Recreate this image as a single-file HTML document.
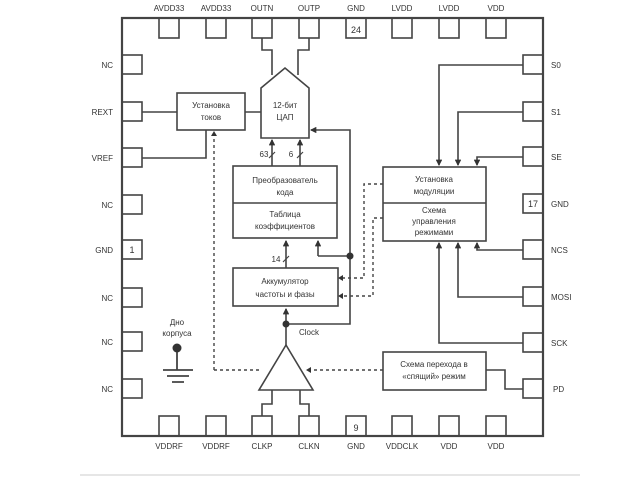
<!DOCTYPE html>
<html><head><meta charset="utf-8"><style>
html,body{margin:0;padding:0;background:#fff;}
svg{display:block;font-family:"Liberation Sans",sans-serif;}
</style></head><body>
<svg width="640" height="480" viewBox="0 0 640 480" xmlns="http://www.w3.org/2000/svg">
<defs>
<marker id="a" viewBox="0 0 6 6" refX="5" refY="3" markerWidth="4" markerHeight="4" orient="auto"><path d="M0,0L6,3L0,6z" fill="#333"/></marker>
</defs>
<g stroke="#444" fill="none" stroke-width="1.6">
<rect x="122" y="18" width="421" height="418" stroke-width="2.2"/>
<!-- top pins -->
<g>
<rect x="159" y="18" width="20" height="20"/><rect x="206" y="18" width="20" height="20"/>
<rect x="252" y="18" width="20" height="20"/><rect x="299" y="18" width="20" height="20"/>
<rect x="346" y="18" width="20" height="20"/><rect x="392" y="18" width="20" height="20"/>
<rect x="439" y="18" width="20" height="20"/><rect x="486" y="18" width="20" height="20"/>
</g>
<g>
<rect x="159" y="416" width="20" height="20"/><rect x="206" y="416" width="20" height="20"/>
<rect x="252" y="416" width="20" height="20"/><rect x="299" y="416" width="20" height="20"/>
<rect x="346" y="416" width="20" height="20"/><rect x="392" y="416" width="20" height="20"/>
<rect x="439" y="416" width="20" height="20"/><rect x="486" y="416" width="20" height="20"/>
</g>
<g>
<rect x="122" y="55" width="20" height="19"/><rect x="122" y="102" width="20" height="19"/>
<rect x="122" y="148" width="20" height="19"/><rect x="122" y="195" width="20" height="19"/>
<rect x="122" y="240" width="20" height="19"/><rect x="122" y="288" width="20" height="19"/>
<rect x="122" y="332" width="20" height="19"/><rect x="122" y="379" width="20" height="19"/>
</g>
<g>
<rect x="523" y="55" width="20" height="19"/><rect x="523" y="102" width="20" height="19"/>
<rect x="523" y="147" width="20" height="19"/><rect x="523" y="194" width="20" height="19"/>
<rect x="523" y="240" width="20" height="19"/><rect x="523" y="287" width="20" height="19"/>
<rect x="523" y="333" width="20" height="19"/><rect x="523" y="379" width="20" height="19"/>
</g>
<!-- blocks -->
<rect x="177" y="93" width="68" height="37"/>
<path d="M261,88 L285,68 L309,88 L309,138 L261,138 Z"/>
<rect x="233" y="166" width="104" height="72"/><line x1="233" y1="203" x2="337" y2="203"/>
<rect x="233" y="268" width="105" height="38"/>
<rect x="383" y="167" width="103" height="74"/><line x1="383" y1="203" x2="486" y2="203"/>
<rect x="383" y="352" width="103" height="38"/>
<path d="M286,345 L313,390 L259,390 Z"/>
<!-- solid wires -->
<path d="M142,112H177M245,112H261M142,158H206V130"/>
<path d="M262,38V50H272V75M309,38V50H298V75"/>
<path d="M272,166V140" marker-end="url(#a)"/><path d="M300,166V140" marker-end="url(#a)"/>
<path d="M350,256V130H311" marker-end="url(#a)"/>
<path d="M318,256V241" marker-end="url(#a)"/><path d="M318,256H350"/>
<path d="M286,268V241" marker-end="url(#a)"/>
<path d="M286,324V309" marker-end="url(#a)"/><path d="M286,324V345M286,324H350V256"/>
<path d="M262,416V404H272V390M309,416V404H300V390"/>
<path d="M523,65H439V165" marker-end="url(#a)"/>
<path d="M523,112H458V165" marker-end="url(#a)"/>
<path d="M523,157H477V165" marker-end="url(#a)"/>
<path d="M523,250H477V243" marker-end="url(#a)"/>
<path d="M523,297H458V243" marker-end="url(#a)"/>
<path d="M523,343H439V243" marker-end="url(#a)"/>
<path d="M523,389H505V370H486"/>
<!-- ground -->
<path d="M177,348V370M163,370H193M167,376H189M172,382H184" stroke-width="1.8"/>
<!-- bus slashes -->
<path d="M269,158L275,152M297,158L303,152M283,262L289,256" stroke-width="1.2"/>
</g>
<g stroke="#444" fill="none" stroke-width="1.4" stroke-dasharray="3,3">
<path d="M214,370V133"/><path d="M214,370H262"/>
<path d="M383,370H310"/>
<path d="M383,184H364V278H340"/>
<path d="M383,218H373V296H340"/>
</g>
<g fill="#333">
<path d="M214,131l-3,5h6z"/>
<path d="M306,370l5,-3v6z"/>
<path d="M338,278l5,-3v6z"/><path d="M338,296l5,-3v6z"/>
<circle cx="350" cy="256" r="3.5"/><circle cx="286" cy="324" r="3.5"/>
<circle cx="177" cy="348" r="4.5"/>
</g>
<g font-size="8" fill="#333" text-anchor="middle">
<text x="169" y="11">AVDD33</text><text x="216" y="11">AVDD33</text><text x="262" y="11">OUTN</text><text x="309" y="11">OUTP</text>
<text x="356" y="11">GND</text><text x="402" y="11">LVDD</text><text x="449" y="11">LVDD</text><text x="496" y="11">VDD</text>
<text x="169" y="449">VDDRF</text><text x="216" y="449">VDDRF</text><text x="262" y="449">CLKP</text><text x="309" y="449">CLKN</text>
<text x="356" y="449">GND</text><text x="402" y="449">VDDCLK</text><text x="449" y="449">VDD</text><text x="496" y="449">VDD</text>
<text x="356" y="33" font-size="9">24</text><text x="356" y="431" font-size="9">9</text>
<text x="132" y="253" font-size="9">1</text><text x="533" y="207" font-size="9">17</text>
<text x="211" y="108">Установка</text><text x="211" y="120">токов</text>
<text x="285" y="108">12-бит</text><text x="285" y="120">ЦАП</text>
<text x="285" y="183">Преобразователь</text><text x="285" y="195">кода</text>
<text x="285" y="217">Таблица</text><text x="285" y="229">коэффициентов</text>
<text x="285" y="284">Аккумулятор</text><text x="285" y="297">частоты и фазы</text>
<text x="434" y="182">Установка</text><text x="434" y="194">модуляции</text>
<text x="434" y="213">Схема</text><text x="434" y="224">управления</text><text x="434" y="235">режимами</text>
<text x="434" y="367">Схема перехода в</text><text x="434" y="379">«спящий» режим</text>
<text x="177" y="325">Дно</text><text x="177" y="336">корпуса</text>
<text x="309" y="335">Clock</text>
<text x="264" y="157">63</text><text x="291" y="157">6</text><text x="276" y="262">14</text>
</g>
<g font-size="8" fill="#333" text-anchor="end">
<text x="113" y="68">NC</text><text x="113" y="115">REXT</text><text x="113" y="161">VREF</text><text x="113" y="208">NC</text>
<text x="113" y="253">GND</text><text x="113" y="301">NC</text><text x="113" y="345">NC</text><text x="113" y="392">NC</text>
</g>
<g font-size="8" fill="#333">
<text x="551" y="68">S0</text><text x="551" y="115">S1</text><text x="551" y="160">SE</text><text x="551" y="207">GND</text>
<text x="551" y="253">NCS</text><text x="551" y="300">MOSI</text><text x="551" y="346">SCK</text><text x="553" y="392">PD</text>
</g>
<line x1="80" y1="475" x2="580" y2="475" stroke="#e6e6e6" stroke-width="2"/>
</svg>
</body></html>
